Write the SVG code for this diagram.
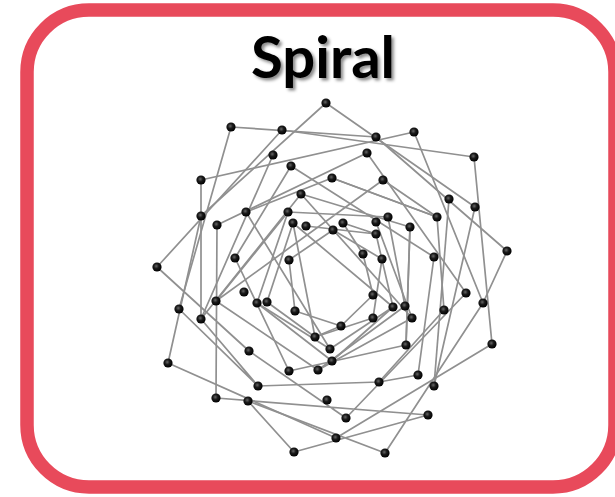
<svg xmlns="http://www.w3.org/2000/svg" width="615" height="497" viewBox="0 0 615 497">
<defs>
<filter id="sh" x="-10%" y="-10%" width="130%" height="140%"><feDropShadow dx="2.5" dy="2.5" stdDeviation="1.6" flood-color="#000" flood-opacity="0.45"/></filter>
<radialGradient id="ball" cx="0.42" cy="0.4" r="0.6"><stop offset="0" stop-color="#666"/><stop offset="0.45" stop-color="#1a1a1a"/><stop offset="1" stop-color="#000"/></radialGradient>
</defs>
<style>
.e{stroke:#909090;stroke-width:1.7;fill:none;stroke-linejoin:round}
.n{fill:url(#ball)}
</style>
<rect x="27" y="10" width="588" height="477" rx="62" fill="#fff" stroke="#E84A5B" stroke-width="13.5"/>
<text x="323" y="78" font-family="Lato, 'Open Sans', sans-serif" font-weight="bold" font-size="58" text-anchor="middle" fill="#000" filter="url(#sh)">Spiral</text>
<g id="connectors">
<path class="e" d="M336 438L168 363L201 216L326 103L475 207L434 386"/>
<path class="e" d="M179 309L231 127L376 137L507 251L483 303"/>
<path class="e" d="M428 415L216 398L217 225L367 153L466 293L346 418L249 351L157 267L282 130L474 157L492 344L336 438"/>
<path class="e" d="M201 319L201 180L414 132L483 303L385 453L248 401L294 452L428 415"/>
<path class="e" d="M449 199L434 386"/>
<path class="e" d="M273 155L201 319L301 194"/>
<path class="e" d="M201 319L258 386L179 309"/>
<path class="e" d="M258 386L379 382L444 310L437 217L383 180L216 301L318 370L405 306L388 217L288 212L216 301"/>
<path class="e" d="M437 217L332 178L246 212L330 349L393 307L293 223L315 337L341 326L295 311L289 260L333 230L382 259L373 318"/>
<path class="e" d="M373 318L315 337"/>
<path class="e" d="M363 254L373 295L341 326"/>
<path class="e" d="M315 337L267 302L293 223"/>
<path class="e" d="M306 226L376 234L343 223L363 254"/>
<path class="e" d="M376 234L393 307L332 361L257 303L288 212"/>
<path class="e" d="M376 222L412 318L318 370"/>
<path class="e" d="M330 349L257 303"/>
<path class="e" d="M301 194L410 227L406 345L289 371L235 258L291 166L434 257L418 375L379 382"/>
<path class="e" d="M410 227L406 345"/>
<path class="e" d="M332 178L437 217"/>
<path class="e" d="M301 194L412 318"/>
</g>
<g id="nodes">
<circle class="n" cx="326" cy="103" r="4.6"/>
<circle class="n" cx="282" cy="130" r="4.6"/>
<circle class="n" cx="231" cy="127" r="4.6"/>
<circle class="n" cx="376" cy="137" r="4.6"/>
<circle class="n" cx="414" cy="132" r="4.6"/>
<circle class="n" cx="273" cy="155" r="4.6"/>
<circle class="n" cx="367" cy="153" r="4.6"/>
<circle class="n" cx="474" cy="157" r="4.6"/>
<circle class="n" cx="291" cy="166" r="4.6"/>
<circle class="n" cx="332" cy="178" r="4.6"/>
<circle class="n" cx="383" cy="180" r="4.6"/>
<circle class="n" cx="201" cy="180" r="4.6"/>
<circle class="n" cx="301" cy="194" r="4.6"/>
<circle class="n" cx="449" cy="199" r="4.6"/>
<circle class="n" cx="475" cy="207" r="4.6"/>
<circle class="n" cx="246" cy="212" r="4.6"/>
<circle class="n" cx="288" cy="212" r="4.6"/>
<circle class="n" cx="201" cy="216" r="4.6"/>
<circle class="n" cx="388" cy="217" r="4.6"/>
<circle class="n" cx="437" cy="217" r="4.6"/>
<circle class="n" cx="217" cy="225" r="4.6"/>
<circle class="n" cx="293" cy="223" r="4.6"/>
<circle class="n" cx="306" cy="226" r="4.6"/>
<circle class="n" cx="343" cy="223" r="4.6"/>
<circle class="n" cx="376" cy="222" r="4.6"/>
<circle class="n" cx="333" cy="230" r="4.6"/>
<circle class="n" cx="376" cy="234" r="4.6"/>
<circle class="n" cx="410" cy="227" r="4.6"/>
<circle class="n" cx="235" cy="258" r="4.6"/>
<circle class="n" cx="289" cy="260" r="4.6"/>
<circle class="n" cx="363" cy="254" r="4.6"/>
<circle class="n" cx="382" cy="259" r="4.6"/>
<circle class="n" cx="434" cy="257" r="4.6"/>
<circle class="n" cx="507" cy="251" r="4.6"/>
<circle class="n" cx="157" cy="267" r="4.6"/>
<circle class="n" cx="244" cy="292" r="4.6"/>
<circle class="n" cx="216" cy="301" r="4.6"/>
<circle class="n" cx="179" cy="309" r="4.6"/>
<circle class="n" cx="201" cy="319" r="4.6"/>
<circle class="n" cx="257" cy="303" r="4.6"/>
<circle class="n" cx="267" cy="302" r="4.6"/>
<circle class="n" cx="295" cy="311" r="4.6"/>
<circle class="n" cx="373" cy="295" r="4.6"/>
<circle class="n" cx="393" cy="307" r="4.6"/>
<circle class="n" cx="405" cy="306" r="4.6"/>
<circle class="n" cx="412" cy="318" r="4.6"/>
<circle class="n" cx="466" cy="293" r="4.6"/>
<circle class="n" cx="483" cy="303" r="4.6"/>
<circle class="n" cx="444" cy="310" r="4.6"/>
<circle class="n" cx="341" cy="326" r="4.6"/>
<circle class="n" cx="373" cy="318" r="4.6"/>
<circle class="n" cx="315" cy="337" r="4.6"/>
<circle class="n" cx="330" cy="349" r="4.6"/>
<circle class="n" cx="332" cy="361" r="4.6"/>
<circle class="n" cx="289" cy="371" r="4.6"/>
<circle class="n" cx="318" cy="370" r="4.6"/>
<circle class="n" cx="249" cy="351" r="4.6"/>
<circle class="n" cx="168" cy="363" r="4.6"/>
<circle class="n" cx="492" cy="344" r="4.6"/>
<circle class="n" cx="406" cy="345" r="4.6"/>
<circle class="n" cx="379" cy="382" r="4.6"/>
<circle class="n" cx="418" cy="375" r="4.6"/>
<circle class="n" cx="434" cy="386" r="4.6"/>
<circle class="n" cx="258" cy="386" r="4.6"/>
<circle class="n" cx="216" cy="398" r="4.6"/>
<circle class="n" cx="248" cy="401" r="4.6"/>
<circle class="n" cx="327" cy="400" r="4.6"/>
<circle class="n" cx="346" cy="418" r="4.6"/>
<circle class="n" cx="428" cy="415" r="4.6"/>
<circle class="n" cx="336" cy="438" r="4.6"/>
<circle class="n" cx="294" cy="452" r="4.6"/>
<circle class="n" cx="385" cy="453" r="4.6"/>
</g>
</svg>
